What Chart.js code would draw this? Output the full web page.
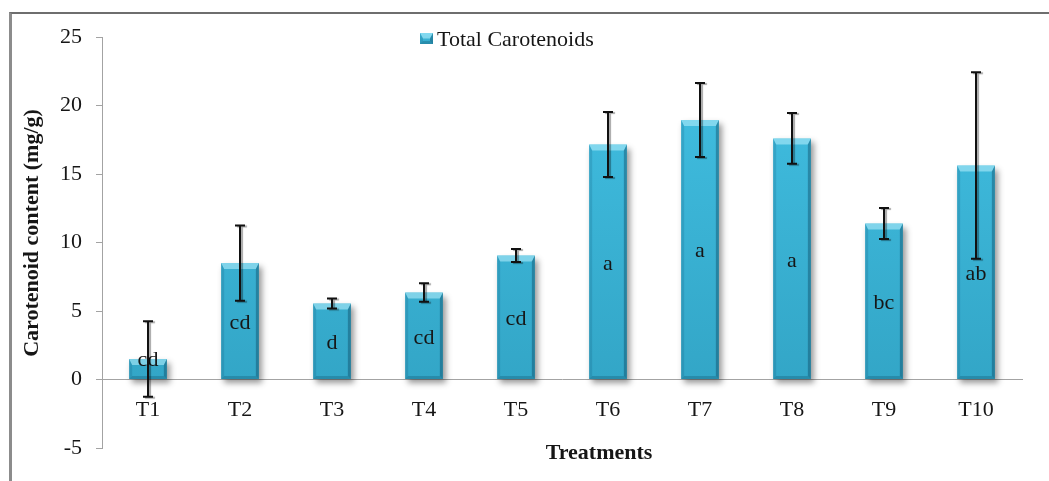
<!DOCTYPE html>
<html>
<head>
<meta charset="utf-8">
<script src="https://cdn.jsdelivr.net/npm/chart.js@4.4.0/dist/chart.umd.min.js"></script>
<style>
  html, body { margin: 0; padding: 0; background: #fff; }
  #wrap { position: relative; width: 1049px; height: 481px; overflow: hidden; }
  #frame { position: absolute; left: 9px; top: 12px; width: 1100px; height: 600px;
           border-left: 3px solid #8c8c8c; border-top: 2px solid #6e6e6e; box-sizing: border-box; }
  #c { position: absolute; left: 0; top: 0; }
</style>
</head>
<body>
<div id="wrap">
  <div id="frame"></div>
  <canvas id="c" width="1049" height="481"></canvas>
</div>
<script>
// Treatments and measured total carotenoids (mg/g) with error bar half-lengths
const treatments = ['T1', 'T2', 'T3', 'T4', 'T5', 'T6', 'T7', 'T8', 'T9', 'T10'];
const carotenoids = [1.5, 8.5, 5.55, 6.35, 9.05, 17.15, 18.95, 17.6, 11.38, 15.62];
const errors = [2.75, 2.75, 0.37, 0.68, 0.48, 2.37, 2.7, 1.86, 1.13, 6.8];
const groupLetters = ['cd', 'cd', 'd', 'cd', 'cd', 'a', 'a', 'a', 'bc', 'ab'];
const yMin = -5;
const yMax = 25;
const yStep = 5;

const seriesName = 'Total Carotenoids';
const xTitle = 'Treatments';
const yTitle = 'Carotenoid content (mg/g)';

const SERIF = "'Liberation Serif', 'Times New Roman', serif";
const TEXT = '#161616';
const AXIS = '#a3a3a3';

function barGradient(c, top, bottom) {
  const g = c.createLinearGradient(0, top, 0, bottom);
  g.addColorStop(0, '#42c1e4');
  g.addColorStop(1, '#33a6c7');
  return g;
}

// Bevelled edges on a bar rectangle
function bevel(c, L, T, R, B) {
  const s = Math.min(3, (R - L) / 4, (B - T) / 2);
  const t = Math.min(6, (B - T) / 2);
  c.save();
  // top (light)
  c.fillStyle = 'rgba(175,235,250,0.6)';
  c.beginPath(); c.moveTo(L, T); c.lineTo(R, T); c.lineTo(R - s, T + t); c.lineTo(L + s, T + t); c.closePath(); c.fill();
  // left (slightly dark)
  c.fillStyle = 'rgba(10,80,110,0.18)';
  c.beginPath(); c.moveTo(L, T); c.lineTo(L + s, T + t); c.lineTo(L + s, B - s); c.lineTo(L, B); c.closePath(); c.fill();
  // right (dark)
  c.fillStyle = 'rgba(5,55,80,0.36)';
  c.beginPath(); c.moveTo(R, T); c.lineTo(R - s, T + t); c.lineTo(R - s, B - s); c.lineTo(R, B); c.closePath(); c.fill();
  // bottom (dark)
  c.fillStyle = 'rgba(5,60,85,0.25)';
  c.beginPath(); c.moveTo(L, B); c.lineTo(R, B); c.lineTo(R - s, B - s); c.lineTo(L + s, B - s); c.closePath(); c.fill();
  c.restore();
}

const barShadow = {
  id: 'barShadow',
  beforeDatasetDraw(chart) {
    const c = chart.ctx;
    c.save();
    c.shadowColor = 'rgba(0,0,0,0.4)';
    c.shadowBlur = 6;
    c.shadowOffsetX = 3;
    c.shadowOffsetY = 4;
  },
  afterDatasetDraw(chart) {
    chart.ctx.restore();
  }
};

const barDecor = {
  id: 'barDecor',
  afterDatasetsDraw(chart) {
    const c = chart.ctx;
    const y = chart.scales.y;
    const zero = y.getPixelForValue(0);
    const bars = chart.getDatasetMeta(0).data;

    bars.forEach((bar) => {
      const p = bar.getProps(['x', 'y', 'base', 'width'], true);
      bevel(c, p.x - p.width / 2, Math.min(p.y, p.base), p.x + p.width / 2, Math.max(p.y, p.base));
    });

    // significance letters
    c.save();
    c.font = '22px ' + SERIF;
    c.fillStyle = TEXT;
    c.textAlign = 'center';
    c.textBaseline = 'middle';
    bars.forEach((bar, i) => {
      const p = bar.getProps(['x'], true);
      const ly = Math.min(y.getPixelForValue(carotenoids[i] / 2), zero - 21) + 2;
      c.fillText(groupLetters[i], p.x, ly);
    });
    c.restore();

    // error bars
    c.save();
    c.strokeStyle = '#111';
    c.lineWidth = 2;
    c.shadowColor = 'rgba(0,0,0,0.35)';
    c.shadowOffsetX = 2;
    c.shadowOffsetY = 1;
    c.shadowBlur = 1;
    bars.forEach((bar, i) => {
      const p = bar.getProps(['x'], true);
      const hi = y.getPixelForValue(carotenoids[i] + errors[i]);
      const lo = y.getPixelForValue(carotenoids[i] - errors[i]);
      const x = Math.round(p.x);
      c.beginPath();
      c.moveTo(x, hi); c.lineTo(x, lo);
      c.moveTo(x - 5, hi); c.lineTo(x + 5, hi);
      c.moveTo(x - 5, lo); c.lineTo(x + 5, lo);
      c.stroke();
    });
    c.restore();
  }
};

const titlesAndKey = {
  id: 'titlesAndKey',
  afterDraw(chart) {
    const c = chart.ctx;
    const area = chart.chartArea;
    c.save();

    // series key
    const kx = area.left + 318, ky = area.top - 4;
    c.fillStyle = barGradient(c, ky, ky + 11);
    c.fillRect(kx, ky, 13, 11);
    bevel(c, kx, ky, kx + 13, ky + 11);
    c.fillStyle = TEXT;
    c.font = '22px ' + SERIF;
    c.textAlign = 'left';
    c.textBaseline = 'alphabetic';
    c.fillText(chart.data.datasets[0].label, kx + 17, ky + 13);

    // axis titles
    c.font = 'bold 22px ' + SERIF;
    c.textAlign = 'center';
    c.fillText(xTitle, area.left + 497, area.bottom + 11);
    c.translate(32, area.top + 196);
    c.rotate(-Math.PI / 2);
    c.textBaseline = 'middle';
    c.fillText(yTitle, 0, 0);
    c.restore();
  }
};

new Chart(document.getElementById('c'), {
  type: 'bar',
  data: {
    labels: treatments,
    datasets: [{
      label: seriesName,
      data: carotenoids,
      backgroundColor(ctx) {
        const ch = ctx.chart;
        if (!ch.chartArea) return '#3cbbdc';
        const y = ch.scales.y;
        return barGradient(ch.ctx, y.getPixelForValue(yMax), y.getPixelForValue(0));
      },
      borderWidth: 0,
      barPercentage: 0.41,
      categoryPercentage: 1
    }]
  },
  options: {
    responsive: false,
    animation: false,
    events: [],
    layout: { padding: { left: 0, top: 37, right: 27, bottom: 33 } },
    plugins: {
      legend: { display: false },
      tooltip: { enabled: false }
    },
    scales: {
      x: {
        position: { y: 0 },
        grid: { display: true, drawOnChartArea: false, drawTicks: false },
        border: { display: true, color: AXIS, width: 1 },
        ticks: { font: { family: SERIF, size: 22 }, color: TEXT, padding: 18, maxRotation: 0 }
      },
      y: {
        min: yMin,
        max: yMax,
        afterFit(scale) { scale.width = 102; },
        ticks: { stepSize: yStep, font: { family: SERIF, size: 22 }, color: TEXT, padding: 14 },
        grid: { drawOnChartArea: false, drawTicks: true, tickLength: 6, color: AXIS },
        border: { display: true, color: AXIS, width: 1 }
      }
    }
  },
  plugins: [barShadow, barDecor, titlesAndKey]
});
</script>
</body>
</html>
